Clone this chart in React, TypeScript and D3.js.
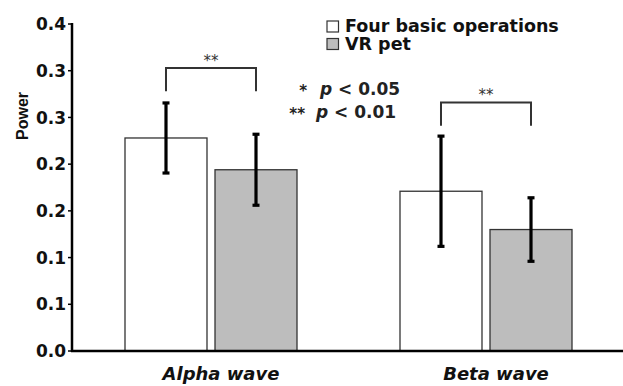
import * as d3 from "d3";

const categories = ["Alpha wave", "Beta wave"];
const seriesNames = ["Four basic operations", "VR pet"];
const fourBasic = [0.228, 0.171];
const vrPet = [0.194, 0.13];
const fourBasicErr = [0.0375, 0.059];
const vrPetErr = [0.038, 0.034];
const tickValues = [0, 0.05, 0.1, 0.15, 0.2, 0.25, 0.3, 0.35];
const tickLabels = ["0.0", "0.1", "0.1", "0.2", "0.2", "0.3", "0.3", "0.4"];
// significance brackets (top of bracket in data units)
const bracketTop = [0.303, 0.266];
const bracketLabel = ["**", "**"];

const W = 623;
const H = 386;
const FONT = "'DejaVu Sans', sans-serif";

export default function App() {
  const y = d3.scaleLinear().domain([0, 0.35]).range([351, 24]);
  const x = d3.scaleBand().domain(categories).range([73.5, 623.5]).padding(0);
  const inner = d3.scaleBand().domain(seriesNames).range([-86, 86]).paddingInner(0.089).paddingOuter(0);
  const fills = ["#ffffff", "#bdbdbd"];
  const means = [fourBasic, vrPet];
  const errs = [fourBasicErr, vrPetErr];
  const bw = inner.bandwidth();

  const center = (ci: number, si: number) =>
    x(categories[ci])! + x.bandwidth() / 2 + inner(seriesNames[si])! + bw / 2;

  return (
    <svg width={W} height={H} style={{ position: "absolute", left: 0, top: 0, background: "#fff" }}>
      {/* bars */}
      {categories.map((c, ci) =>
        seriesNames.map((s, si) => (
          <rect
            key={c + s}
            x={x(c)! + x.bandwidth() / 2 + inner(s)!}
            y={y(means[si][ci])}
            width={bw}
            height={y(0) - y(means[si][ci])}
            fill={fills[si]}
            stroke="#333"
            strokeWidth={1.3}
          />
        ))
      )}

      {/* error bars */}
      {categories.map((c, ci) =>
        seriesNames.map((s, si) => {
          const cx = center(ci, si);
          const hi = y(means[si][ci] + errs[si][ci]);
          const lo = y(means[si][ci] - errs[si][ci]);
          return (
            <g key={"e" + c + s} stroke="#000" strokeWidth={3.2}>
              <line x1={cx} x2={cx} y1={hi} y2={lo} />
              <line x1={cx - 3.5} x2={cx + 3.5} y1={hi} y2={hi} />
              <line x1={cx - 3.5} x2={cx + 3.5} y1={lo} y2={lo} />
            </g>
          );
        })
      )}

      {/* axes */}
      <line x1={72} x2={72} y1={y(0.35) - 1} y2={y(0) + 1} stroke="#000" strokeWidth={2.5} />
      <line x1={71} x2={W} y1={y(0)} y2={y(0)} stroke="#000" strokeWidth={2.5} />
      {tickValues.map((t, i) => (
        <g key={"t" + i}>
          <line x1={68} x2={72} y1={y(t)} y2={y(t)} stroke="#000" strokeWidth={1.5} />
          <text
            x={66}
            y={y(t)}
            dy="0.36em"
            textAnchor="end"
            fontFamily={FONT}
            fontWeight="bold"
            fontSize={17}
            fill="#111"
          >
            {tickLabels[i]}
          </text>
        </g>
      ))}
      <text
        transform="translate(28,116) rotate(-90)"
        textAnchor="middle"
        fontFamily="'Liberation Sans', Arial, sans-serif"
        fontWeight="bold"
        fontSize={16}
        fill="#111"
      >
        Power
      </text>

      {/* category labels */}
      {categories.map((c) => (
        <text
          key={"c" + c}
          x={x(c)! + x.bandwidth() / 2 + 10}
          y={380}
          textAnchor="middle"
          fontFamily={FONT}
          fontWeight="bold"
          fontStyle="italic"
          fontSize={18}
          fill="#111"
        >
          {c}
        </text>
      ))}

      {/* significance brackets */}
      {categories.map((c, ci) => {
        const x1 = center(ci, 0);
        const x2 = center(ci, 1);
        const top = y(bracketTop[ci]);
        const leg = y(bracketTop[ci] - 0.025);
        return (
          <g key={"b" + c}>
            <path
              d={`M${x1},${leg}V${top}H${x2}V${leg}`}
              fill="none"
              stroke="#333"
              strokeWidth={2}
            />
            <text
              x={(x1 + x2) / 2}
              y={top - 2}
              textAnchor="middle"
              fontFamily={FONT}
              fontSize={15}
              fill="#333"
            >
              {bracketLabel[ci]}
            </text>
          </g>
        );
      })}

      {/* p-value key */}
      <g fontFamily={FONT} fontWeight="bold" fill="#222">
        <text x={307} y={96} textAnchor="end" fontSize={15}>*</text>
        <text x={320} y={95} fontSize={17}>
          <tspan fontStyle="italic">p</tspan> &lt; 0.05
        </text>
        <text x={305} y={119} textAnchor="end" fontSize={15}>**</text>
        <text x={316} y={118} fontSize={17}>
          <tspan fontStyle="italic">p</tspan> &lt; 0.01
        </text>
      </g>

      {/* legend */}
      {seriesNames.map((s, si) => (
        <g key={"l" + s} transform={`translate(327,${21 + si * 17.5})`}>
          <rect width={11.5} height={11} fill={fills[si]} stroke="#333" strokeWidth={1.2} />
          <text
            x={18}
            y={11}
            fontFamily={FONT}
            fontWeight="bold"
            fontSize={17.5}
            fill="#111"
          >
            {s}
          </text>
        </g>
      ))}
    </svg>
  );
}
